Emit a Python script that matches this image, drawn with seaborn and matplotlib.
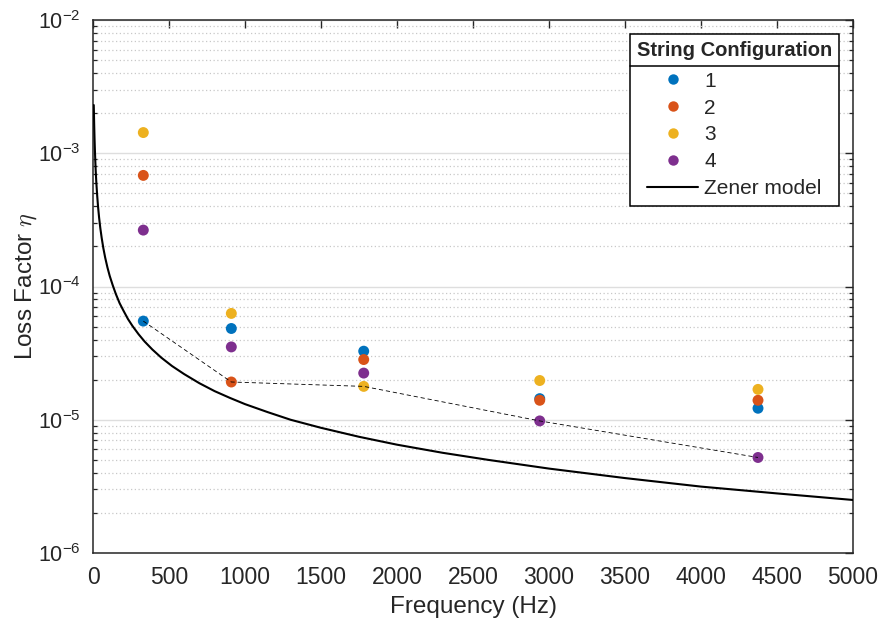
import numpy as np
import pandas as pd
import matplotlib
matplotlib.use("Agg")
import matplotlib.pyplot as plt
from matplotlib.lines import Line2D
import seaborn as sns

# Measured loss factor for each string configuration at the mode frequencies
freqs = [331, 910, 1781, 2939, 4375]
configs = ["1", "2", "3", "4"]
eta_1 = [5.5e-5, 4.84e-5, 3.27e-5, 1.44e-5, 1.22e-5]
eta_2 = [6.82e-4, 1.92e-5, 2.83e-5, 1.40e-5, 1.40e-5]
eta_3 = [1.43e-3, 6.28e-5, 1.78e-5, 1.97e-5, 1.69e-5]
eta_4 = [2.65e-4, 3.52e-5, 2.24e-5, 9.8e-6, 5.21e-6]

# Zener model curve
zener_f = [5, 6, 7, 8, 10, 12, 15, 18, 22, 27, 33, 40, 48, 57, 68, 80, 95,
           110, 130, 150, 175, 200, 230, 260, 300, 340, 390, 450, 520, 600,
           700, 800, 900, 1000, 1150, 1300, 1500, 1750, 2000, 2300, 2600,
           3000, 3500, 4000, 4500, 5000]
zener_eta = [2.3e-3, 2.05e-3, 1.8e-3, 1.6e-3, 1.3e-3, 1.1e-3, 8.8e-4, 7.3e-4,
             6.0e-4, 4.9e-4, 4.0e-4, 3.3e-4, 2.75e-4, 2.32e-4, 1.94e-4,
             1.65e-4, 1.39e-4, 1.2e-4, 1.02e-4, 8.8e-5, 7.5e-5, 6.6e-5,
             5.7e-5, 5.05e-5, 4.38e-5, 3.86e-5, 3.37e-5, 2.92e-5, 2.53e-5,
             2.2e-5, 1.88e-5, 1.64e-5, 1.46e-5, 1.31e-5, 1.14e-5, 1.0e-5,
             8.7e-6, 7.45e-6, 6.5e-6, 5.65e-6, 5.0e-6, 4.3e-6, 3.65e-6,
             3.15e-6, 2.8e-6, 2.5e-6]

x_ticks = [0, 500, 1000, 1500, 2000, 2500, 3000, 3500, 4000, 4500, 5000]
colors = ["#0072BD", "#D95319", "#EDB120", "#7E2F8E"]

sns.set_theme(style="white")
plt.rcParams["font.family"] = ["Liberation Sans", "DejaVu Sans"]
plt.rcParams["axes.unicode_minus"] = False
plt.rcParams["mathtext.fontset"] = "custom"
plt.rcParams["mathtext.rm"] = "Liberation Sans"
plt.rcParams["mathtext.it"] = "Liberation Sans:italic"

ink = "#262626"

df = pd.DataFrame({
    "freq": freqs * 4,
    "eta": eta_1 + eta_2 + eta_3 + eta_4,
    "config": sum([[c] * len(freqs) for c in configs], []),
})
lowest = df.groupby("freq", as_index=False)["eta"].min()
zener = pd.DataFrame({"freq": zener_f, "eta": zener_eta})

fig = plt.figure(figsize=(8.81, 6.24), dpi=100)
ax = fig.add_axes([93 / 881, 1 - 553 / 624, 760 / 881, 533 / 624])

ax.set_yscale("log")
ax.set_xlim(0, 5000)
ax.set_ylim(1e-6, 1e-2)

# grid: solid at decades, dotted at minor ticks
ax.yaxis.grid(True, which="major", color="#dedede", linestyle="-", linewidth=1.0)
ax.yaxis.grid(True, which="minor", color="#c8c8c8", linestyle=(0, (1, 2)), linewidth=0.9)
ax.xaxis.grid(False)
ax.set_axisbelow(True)

sns.lineplot(data=zener, x="freq", y="eta", color="black", linewidth=1.5,
             ax=ax, legend=False, sort=False, zorder=3)
sns.scatterplot(data=df, x="freq", y="eta", hue="config", hue_order=configs,
                palette=colors, s=62, linewidth=0, ax=ax, legend=False, zorder=4)
sns.lineplot(data=lowest, x="freq", y="eta", color="black", linewidth=0.6,
             dashes=False, ax=ax, legend=False, zorder=5)
ax.lines[-1].set_dashes((5, 3.5))

ax.set_xticks(x_ticks)
ax.set_xticklabels([str(t) for t in x_ticks])
ax.yaxis.set_major_locator(matplotlib.ticker.LogLocator(base=10, numticks=10))
ax.yaxis.set_minor_locator(matplotlib.ticker.LogLocator(base=10, subs=np.arange(2, 10), numticks=20))
ax.yaxis.set_minor_formatter(matplotlib.ticker.NullFormatter())

ax.tick_params(axis="both", which="major", direction="in", length=6, width=1.0,
               color=ink, labelcolor=ink, top=True, right=True)
ax.tick_params(axis="y", which="minor", direction="in", length=3.2, width=0.9,
               color=ink, left=True, right=True)
ax.tick_params(axis="x", which="major", pad=9.5, labelsize=16.5)
ax.tick_params(axis="y", which="major", pad=9, labelsize=15.5)
for sp in ax.spines.values():
    sp.set_visible(True)
    sp.set_color(ink)
    sp.set_linewidth(1.1)

ax.set_xlabel("Frequency (Hz)", fontsize=17.5, color=ink, labelpad=5)
ax.set_ylabel(r"Loss Factor $\eta$", fontsize=17.5, color=ink, labelpad=-1,
              math_fontfamily="cm")

handles = [Line2D([], [], marker="o", linestyle="none", markersize=7.5,
                  markerfacecolor=c, markeredgewidth=0) for c in colors]
handles.append(Line2D([], [], color="black", linewidth=1.5))
labels = configs + ["Zener model"]
leg = ax.legend(handles, labels, title="String Configuration", loc="upper right",
                bbox_to_anchor=(1, 1), borderaxespad=0.65, fontsize=15,
                title_fontproperties={"weight": "bold", "size": 14.5},
                frameon=True, fancybox=False, framealpha=1, edgecolor="black",
                handlelength=2.45, handletextpad=0.3, labelspacing=0.38,
                borderpad=0.35)
leg.get_frame().set_linewidth(1.1)
leg.set_zorder(10)
# extra room between the title and the entries
leg._legend_box.sep = 8.5

# separator below the legend title
fig.canvas.draw()
renderer = fig.canvas.get_renderer()
fb = leg.get_frame().get_window_extent()
tb = leg.get_title().get_window_extent()
hb = leg._legend_handle_box.get_window_extent(renderer)
y_sep = 0.5 * (tb.y0 + hb.y1)
inv = fig.transFigure.inverted()
(x0, y0), (x1, _) = inv.transform([(fb.x0, y_sep), (fb.x1, y_sep)])
fig.add_artist(Line2D([x0, x1], [y0, y0], color="black", linewidth=1.1, zorder=11))

fig.savefig("out.png", dpi=100)
